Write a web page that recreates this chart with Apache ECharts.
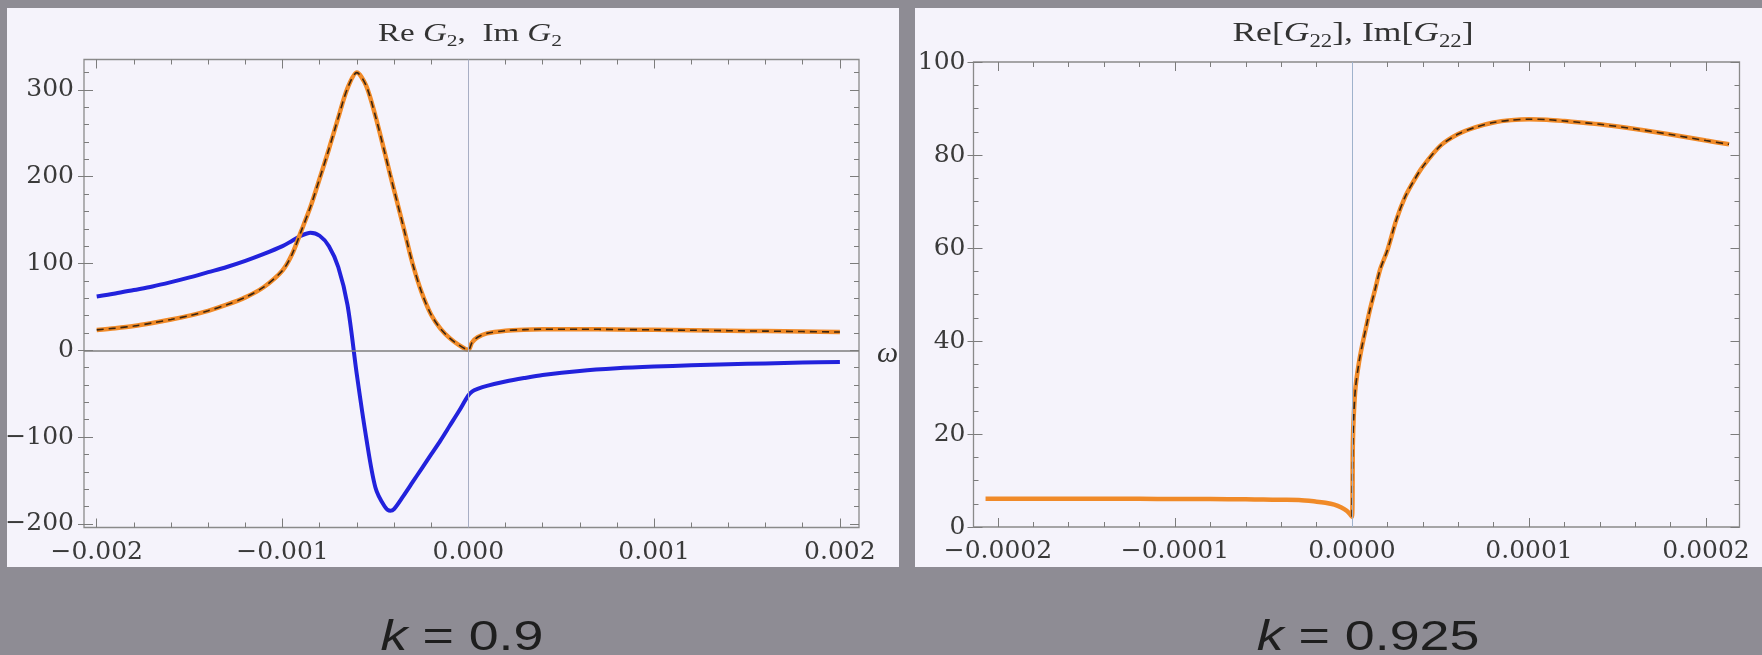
<!DOCTYPE html>
<html><head><meta charset="utf-8">
<script src="https://cdn.jsdelivr.net/npm/echarts@6/dist/echarts.min.js"></script>
<style>html,body{margin:0;padding:0;background:#8e8c94;}#c{width:1762px;height:655px;}</style>
</head><body><div id="c"></div>
<script>
// ---------- Left panel (k = 0.9) ----------
const omegaL = [-0.002,-0.0019,-0.0018,-0.0017,-0.0016,-0.0015,-0.0014,-0.0013,-0.0012,-0.0011,-0.001,-0.00095,-0.0009,-0.00085,-0.0008,-0.00075,-0.0007,-0.00065,-0.0006,-0.00055,-0.0005,-0.00045,-0.00042,-0.0004,-0.00035,-0.0003,-0.00025,-0.0002,-0.00015,-0.0001,-0.00005,0,0.00002,0.00005,0.0001,0.0002,0.0003,0.0004,0.0006,0.0008,0.001,0.0012,0.0014,0.0016,0.0018,0.002];
const reG2 = [62,65.5,69.5,73.5,78.5,84,90,96,103,111,120,126,132,135.5,132,120,96,52,-28,-100,-158,-180,-185,-183,-168,-152,-136,-120,-104,-87,-70,-52,-47.5,-44.5,-41,-36,-32,-28.5,-23.8,-20.8,-18.8,-17.3,-16.1,-15.1,-14.2,-13.5];
const imG2 = [23.5,25.5,28,31.5,35.5,40,45.5,52.5,61,73,92,110,137,165,198,232,268,302,320,305,270,228,202,185,143,100,66,41,25,14,6,0.5,9,15,19.5,22.6,23.8,24.2,24.3,24,23.6,23.1,22.6,22.1,21.6,21];
const xTicksL = [-0.002,-0.001,0,0.001,0.002];
const yTicksL = [-200,-100,0,100,200,300];

// ---------- Right panel (k = 0.925) ----------
const omegaRneg = [-0.000207,-0.00018,-0.00015,-0.00012,-0.0001,-0.00008,-0.00006,-0.00005,-0.00004,-0.00003,-0.00002,-0.000015,-0.00001,-0.000006,-0.000003,-0.000001];
const g22neg = [6.1,6.1,6.1,6.05,6.0,6.0,5.95,5.9,5.85,5.8,5.45,5.2,4.8,4.2,3.5,2.7];
const omegaRpos = [0,0.0000005,0.000001,0.000002,0.000004,0.000006,0.000008,0.00001,0.000013,0.000016,0.00002,0.000025,0.00003,0.000035,0.00004,0.00005,0.00006,0.00007,0.00008,0.00009,0.0001,0.00011,0.00012,0.00014,0.00016,0.00018,0.0002,0.000213];
const g22pos = [2.2,18,24,30,35.5,39.5,43,46.5,51,55.5,59.5,66,71,74.5,77.5,82,84.5,86,87,87.5,87.7,87.6,87.3,86.6,85.6,84.4,83.1,82.3];
const xTicksR = [-0.0002,-0.0001,0,0.0001,0.0002];
const yTicksR = [0,20,40,60,80,100];

const kLabels = ['0.9','0.925'];

// ---------- helpers ----------
const zip = (xs, ys) => xs.map((x, i) => [x, ys[i]]);
function minors(from, to, step, majorStep) {
  const out = [];
  const n0 = Math.round(from / step), n1 = Math.round(to / step), k = Math.round(majorStep / step);
  for (let i = n0; i <= n1; i++) if (i % k !== 0) out.push(Number((i * step).toPrecision(10)));
  return out;
}
const minus = v => (v < 0 ? '\u2212' : '');
const fmtX3 = v => minus(v) + Math.abs(v).toFixed(3);
const fmtX4 = v => minus(v) + Math.abs(v).toFixed(4);
const fmtY = v => minus(v) + Math.abs(Math.round(v));
const tickStyle = {color: '#7c7c7c', width: 1};
const labelStyle = {fontFamily: 'DejaVu Serif', fontSize: 25, color: '#3a3a3a'};

function mkAxes(gi, dim, min, max, majors, mins, fmt, margin, outward) {
  const axes = [];
  const base = {gridIndex: gi, type: 'value', min, max, axisLine: {show: false, onZero: false}, splitLine: {show: false},
    axisLabel: {show: false}, axisTick: {show: false}};
  const pos = dim === 'x' ? ['bottom', 'top'] : ['left', 'right'];
  pos.forEach((p, pi) => {
    axes.push(Object.assign({}, base, {position: p,
      axisTick: {show: true, inside: true, length: 9, customValues: majors, lineStyle: tickStyle},
      axisLabel: pi === 0 ? Object.assign({show: true, customValues: majors, formatter: fmt, margin}, labelStyle) : {show: false}}));
    axes.push(Object.assign({}, base, {position: p,
      axisTick: {show: true, inside: true, length: 5, customValues: mins, lineStyle: tickStyle}}));
  });
  if (outward) axes.push(Object.assign({}, base, {position: pos[0],
    axisTick: {show: true, inside: false, length: 6, customValues: majors, lineStyle: tickStyle}}));
  return axes;
}

const xMinL = -0.0020684, xMaxL = 0.0021028, yMinL = -204.2, yMaxL = 335.1;
const xMinR = -0.0002138, xMaxR = 0.0002189, yMinR = 0, yMaxR = 100;

const xAxes = [].concat(
  mkAxes(0, 'x', xMinL, xMaxL, xTicksL, minors(-0.002, 0.002, 0.0002, 0.001), fmtX3, 12, false),
  mkAxes(1, 'x', xMinR, xMaxR, xTicksR, minors(-0.0002, 0.0002, 0.00002, 0.0001), fmtX4, 12, false)
);
const yAxes = [].concat(
  mkAxes(0, 'y', yMinL, yMaxL, yTicksL, minors(-200, 320, 20, 100), fmtY, 10, true),
  mkAxes(1, 'y', yMinR, yMaxR, yTicksR, minors(0, 100, 5, 20), fmtY, 8, true)
);

const orange = '#f08a28', blue = '#2222dc', dash = '#1c130b';
const lineBase = {type: 'line', showSymbol: false, symbol: 'none', smooth: 0.3, silent: true, animation: false};

const rightFull = zip(omegaRneg.concat(omegaRpos), g22neg.concat(g22pos));

const serif = 'Liberation Serif';
const titleRich = fs => ({
  r: {fontFamily: serif, fontSize: fs, fill: '#333', lineHeight: fs + 6},
  g: {fontFamily: serif, fontSize: fs, fontStyle: 'italic', fill: '#333', lineHeight: fs + 6},
  s: {fontFamily: serif, fontSize: Math.round(fs * 0.66), fill: '#333', lineHeight: 14, verticalAlign: 'bottom'}
});
const kRich = {
  i: {fontFamily: 'Liberation Sans', fontSize: 42, fontStyle: 'italic', fill: '#1e1e1e'},
  t: {fontFamily: 'Liberation Sans', fontSize: 42, fill: '#1e1e1e'}
};

const option = {
  backgroundColor: '#8e8c94',
  animation: false,
  grid: [
    {left: 84, top: 59.5, width: 775, height: 468, show: true, borderColor: '#8a8a8a', borderWidth: 1.3, backgroundColor: 'transparent'},
    {left: 973.5, top: 62, width: 766, height: 465, show: true, borderColor: '#8a8a8a', borderWidth: 1.3, backgroundColor: 'transparent'}
  ],
  xAxis: xAxes,
  yAxis: yAxes,
  graphic: [
    {type: 'rect', z: -10, silent: true, shape: {x: 7, y: 8, width: 892, height: 559}, style: {fill: '#f5f3fb'}},
    {type: 'rect', z: -10, silent: true, shape: {x: 915, y: 8, width: 847, height: 559}, style: {fill: '#f5f3fb'}},
    {type: 'text', z: 5, x: 470, y: 34, scaleX: 1.27, silent: true,
      style: {text: '{r|Re }{g|G}{s|2}{r|,  Im }{g|G}{s|2}', rich: titleRich(26), align: 'center', verticalAlign: 'middle'}},
    {type: 'text', z: 5, x: 1353, y: 34, scaleX: 1.27, silent: true,
      style: {text: '{r|Re[}{g|G}{s|22}{r|], Im[}{g|G}{s|22}{r|]}', rich: titleRich(28), align: 'center', verticalAlign: 'middle'}},
    {type: 'text', z: 5, x: 877, y: 354, silent: true,
      style: {text: 'ω', fontFamily: serif, fontStyle: 'italic', fontSize: 30, fill: '#333', align: 'left', verticalAlign: 'middle'}},
    {type: 'rect', z: 50, silent: true, shape: {x: 899, y: 0, width: 16, height: 655}, style: {fill: '#8e8c94'}},
    {type: 'text', z: 5, x: 462, y: 638, scaleX: 1.28, silent: true,
      style: {text: '{i|k}{t| = ' + kLabels[0] + '}', rich: kRich, align: 'center', verticalAlign: 'middle'}},
    {type: 'text', z: 5, x: 1368, y: 638, scaleX: 1.28, silent: true,
      style: {text: '{i|k}{t| = ' + kLabels[1] + '}', rich: kRich, align: 'center', verticalAlign: 'middle'}}
  ],
  series: [
    Object.assign({}, lineBase, {name: 'Re G2', xAxisIndex: 0, yAxisIndex: 0, data: zip(omegaL, reG2),
      lineStyle: {color: blue, width: 4},
      markLine: {silent: true, symbol: ['none', 'none'], label: {show: false}, animation: false,
        data: [{yAxis: 0, lineStyle: {color: '#7e7e7e', width: 1.6, type: 'solid'}},
               {xAxis: 0, lineStyle: {color: '#a8aec4', width: 1, type: 'solid'}}]}}),
    Object.assign({}, lineBase, {name: 'Im G2', xAxisIndex: 0, yAxisIndex: 0, data: zip(omegaL, imG2),
      lineStyle: {color: orange, width: 4.5}}),
    Object.assign({}, lineBase, {name: 'Im G2 fit', xAxisIndex: 0, yAxisIndex: 0, data: zip(omegaL, imG2),
      lineStyle: {color: dash, width: 1.6, type: [7, 5], opacity: 0.85}}),
    Object.assign({}, lineBase, {name: 'G22', xAxisIndex: 4, yAxisIndex: 5, data: rightFull,
      lineStyle: {color: orange, width: 4.5},
      markLine: {silent: true, symbol: ['none', 'none'], label: {show: false}, animation: false,
        data: [{xAxis: 0, lineStyle: {color: '#9fb2cc', width: 1, type: 'solid'}}]}}),
    Object.assign({}, lineBase, {name: 'G22 fit', xAxisIndex: 4, yAxisIndex: 5, data: zip(omegaRpos, g22pos),
      lineStyle: {color: dash, width: 1.6, type: [7, 5], opacity: 0.85}})
  ]
};

const chart = echarts.init(document.getElementById('c'), null, {renderer: 'canvas'});
chart.setOption(option);
</script>
</body></html>
